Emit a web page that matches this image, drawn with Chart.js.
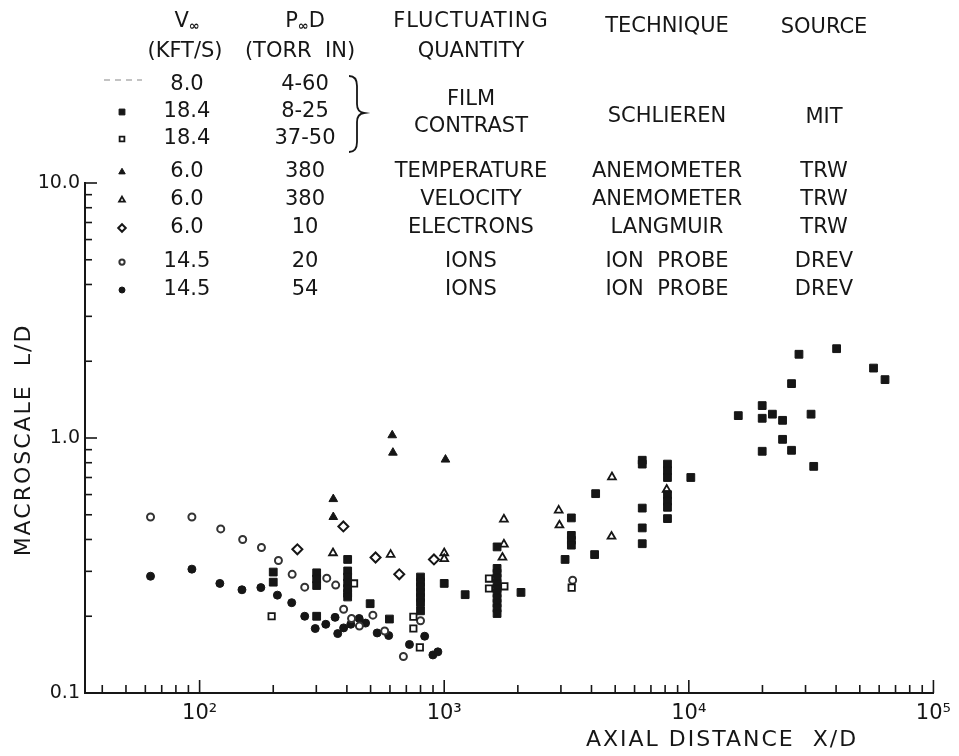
<!DOCTYPE html>
<html>
<head>
<meta charset="utf-8">
<script src="https://cdn.jsdelivr.net/npm/chart.js@4.4.0/dist/chart.umd.min.js"></script>
<style>
  body { margin: 0; background: #fff; }
  canvas { display: block; }
</style>
</head>
<body>
<canvas id="chart" width="959" height="756"></canvas>
<script>
// --- data (x = X/D, y = L/D) ---
// MIT schlieren, 18.4 kft/s, 8-25 torr in (filled squares)
const mitLowX = [200, 200, 301, 301, 301, 301, 403, 403, 403, 403, 403, 403, 403, 498, 597,
  800, 800, 800, 800, 800, 800, 800, 1000, 1218,
  1645, 1645, 1645, 1645, 1645, 1645, 1645, 1645, 1645, 1645, 1645, 2060, 3120,
  3310, 3310, 3310, 3310, 4120, 4160, 6450, 6450, 6450, 6450, 6450,
  8180, 8180, 8180, 8180, 8180, 8180, 8180, 10190,
  15930, 19950, 19950, 19950, 21960, 24170, 24170, 26300, 26300, 28200, 31600, 32400, 40200, 56900, 63400];
const mitLowY = [0.298, 0.272, 0.296, 0.280, 0.264, 0.200, 0.334, 0.301, 0.285, 0.270, 0.257, 0.246, 0.238, 0.224, 0.195,
  0.285, 0.272, 0.260, 0.248, 0.237, 0.226, 0.210, 0.269, 0.243,
  0.374, 0.308, 0.295, 0.282, 0.269, 0.257, 0.246, 0.235, 0.225, 0.215, 0.205, 0.248, 0.334,
  0.486, 0.415, 0.397, 0.380, 0.349, 0.605, 0.818, 0.790, 0.531, 0.444, 0.385,
  0.790, 0.745, 0.700, 0.600, 0.565, 0.535, 0.483, 0.700,
  1.224, 1.340, 1.195, 0.887, 1.240, 1.173, 0.988, 1.634, 0.895, 2.130, 1.240, 0.774, 2.240, 1.880, 1.694];

// MIT schlieren, 18.4 kft/s, 37-50 torr in (open squares)
const mitHighX = [197, 428, 748, 748, 795, 1524, 1524, 1762, 3320];
const mitHighY = [0.200, 0.269, 0.199, 0.179, 0.151, 0.281, 0.257, 0.262, 0.259];

// TRW anemometer temperature (filled triangles)
const trwTempX = [352, 352, 613, 617, 1012];
const trwTempY = [0.576, 0.490, 1.025, 0.876, 0.823];

// TRW anemometer velocity (open triangles)
const trwVelX = [351, 604, 1000, 1000, 1754, 1754, 1730, 2938, 2958, 4850, 4830, 8120];
const trwVelY = [0.354, 0.349, 0.354, 0.336, 0.480, 0.383, 0.340, 0.520, 0.455, 0.703, 0.411, 0.628];

// TRW Langmuir electrons (open diamonds)
const trwElecX = [251, 387, 524, 655, 908];
const trwElecY = [0.366, 0.450, 0.340, 0.292, 0.334];

// DREV ion probe, 20 torr in (open circles)
const drevLowX = [63, 93, 122, 150, 179, 210, 239, 269, 331, 360, 388, 418, 450, 511, 571, 681, 800, 3350];
const drevLowY = [0.490, 0.490, 0.440, 0.400, 0.372, 0.331, 0.292, 0.260, 0.282, 0.265, 0.213, 0.196, 0.183, 0.202, 0.175, 0.139, 0.192, 0.277];

// DREV ion probe, 54 torr in (filled circles)
const drevHighX = [63, 93, 121, 149, 178, 208, 238, 269, 297, 328, 358, 367, 388, 415, 449, 477, 532, 593, 721, 832, 899, 942];
const drevHighY = [0.287, 0.306, 0.269, 0.254, 0.259, 0.242, 0.226, 0.200, 0.179, 0.186, 0.198, 0.171, 0.180, 0.186, 0.196, 0.188, 0.172, 0.168, 0.155, 0.167, 0.141, 0.145];

// ticks
const xTicks = [40, 50, 60, 70, 80, 90, 100, 200, 300, 400, 500, 600, 700, 800, 900, 1000,
  2000, 3000, 4000, 5000, 6000, 7000, 8000, 9000, 10000,
  20000, 30000, 40000, 50000, 60000, 70000, 80000, 90000, 100000];
const xTickLabels = { 100: '10²', 1000: '10³', 10000: '10⁴', 100000: '10⁵' };
const yTicks = [0.1, 0.2, 0.3, 0.4, 0.5, 0.6, 0.7, 0.8, 0.9, 1, 2, 3, 4, 5, 6, 7, 8, 9, 10];
const yTickLabels = { 0.1: '0.1', 1: '1.0', 10: '10.0' };

// legend table text
const velocities = ['8.0', '18.4', '18.4', '6.0', '6.0', '6.0', '14.5', '14.5'];
const pressures = ['4-60', '8-25', '37-50', '380', '380', '10', '20', '54'];
const quantities = ['TEMPERATURE', 'VELOCITY', 'ELECTRONS', 'IONS', 'IONS'];
const techniques = ['ANEMOMETER', 'ANEMOMETER', 'LANGMUIR', 'ION  PROBE', 'ION  PROBE'];
const sources = ['TRW', 'TRW', 'TRW', 'DREV', 'DREV'];

const INK = '#161616';
const FONT = '"DejaVu Sans", sans-serif';
const TXT = '21px ' + FONT;

function pts(xs, ys) {
  return xs.map((x, i) => ({ x: x, y: ys[i] }));
}

const datasets = [
  { label: 'MIT 8-25', data: pts(mitLowX, mitLowY), pointStyle: 'rect', pointRadius: 5.5,
    backgroundColor: INK, borderColor: INK, borderWidth: 1 },
  { label: 'MIT 37-50', data: pts(mitHighX, mitHighY), pointStyle: 'rect', pointRadius: 4.5,
    backgroundColor: '#fff', borderColor: INK, borderWidth: 1.8 },
  { label: 'TRW temperature', data: pts(trwTempX, trwTempY), pointStyle: 'triangle', pointRadius: 5,
    backgroundColor: INK, borderColor: INK, borderWidth: 1 },
  { label: 'TRW velocity', data: pts(trwVelX, trwVelY), pointStyle: 'triangle', pointRadius: 4.5,
    backgroundColor: '#fff', borderColor: INK, borderWidth: 1.8 },
  { label: 'TRW electrons', data: pts(trwElecX, trwElecY), pointStyle: 'rectRot', pointRadius: 5,
    backgroundColor: '#fff', borderColor: INK, borderWidth: 2 },
  { label: 'DREV 20', data: pts(drevLowX, drevLowY), pointStyle: 'circle', pointRadius: 3.5,
    backgroundColor: '#fff', borderColor: '#333', borderWidth: 2 },
  { label: 'DREV 54', data: pts(drevHighX, drevHighY), pointStyle: 'circle', pointRadius: 4,
    backgroundColor: INK, borderColor: INK, borderWidth: 1 }
];

// inward tick marks, axis titles
const axisDecor = {
  id: 'axisDecor',
  afterDraw(chart) {
    const { ctx, chartArea: a, scales: { x, y } } = chart;
    ctx.save();
    ctx.strokeStyle = INK;
    ctx.lineWidth = 1.6;
    x.ticks.forEach(t => {
      const px = x.getPixelForValue(t.value);
      const len = xTickLabels[t.value] ? 13 : 8;
      ctx.beginPath();
      ctx.moveTo(px, a.bottom);
      ctx.lineTo(px, a.bottom - len);
      ctx.stroke();
    });
    y.ticks.forEach(t => {
      const py = y.getPixelForValue(t.value);
      const len = yTickLabels[t.value] ? 12 : 7;
      ctx.beginPath();
      ctx.moveTo(a.left, py);
      ctx.lineTo(a.left + len, py);
      ctx.stroke();
    });

    ctx.fillStyle = INK;
    ctx.font = '22px ' + FONT;
    ctx.letterSpacing = '2px';
    ctx.textAlign = 'center';
    ctx.textBaseline = 'middle';
    ctx.fillText('AXIAL DISTANCE  X/D', 722, 740);
    ctx.translate(24, 440);
    ctx.rotate(-Math.PI / 2);
    ctx.fillText('MACROSCALE  L/D', 0, 0);
    ctx.restore();
  }
};

// legend table at the top
const tableRowY = [85, 112, 139, 172, 200, 228, 262, 290];
const colMark = 122, colV = 187, colP = 305, colQ = 471, colT = 667, colS = 824;

const legendTable = {
  id: 'legendTable',
  afterDraw(chart) {
    const ctx = chart.ctx;
    ctx.save();
    ctx.fillStyle = INK;
    ctx.strokeStyle = INK;
    ctx.textAlign = 'center';
    ctx.textBaseline = 'middle';
    ctx.font = TXT;

    // headers with subscript infinity
    const sub = (main, subTxt, tail, cx, cy) => {
      ctx.font = TXT;
      const w1 = ctx.measureText(main).width;
      const wt = tail ? ctx.measureText(tail).width : 0;
      ctx.font = 'bold 13px ' + FONT;
      const w2 = ctx.measureText(subTxt).width;
      const left = cx - (w1 + w2 + wt) / 2;
      ctx.textAlign = 'left';
      ctx.font = TXT;
      ctx.fillText(main, left, cy);
      ctx.font = 'bold 13px ' + FONT;
      ctx.fillText(subTxt, left + w1, cy + 5);
      if (tail) {
        ctx.font = TXT;
        ctx.fillText(tail, left + w1 + w2, cy);
      }
      ctx.textAlign = 'center';
      ctx.font = TXT;
    };
    sub('V', '∞', '', colV, 22);
    sub('P', '∞', 'D', colP, 22);
    ctx.fillText('(KFT/S)', colV - 2, 52);
    ctx.fillText('(TORR  IN)', colP - 5, 52);
    ctx.letterSpacing = '1px';
    ctx.fillText('FLUCTUATING', colQ, 22);
    ctx.letterSpacing = '0px';
    ctx.fillText('QUANTITY', colQ, 52);
    ctx.fillText('TECHNIQUE', colT, 27);
    ctx.fillText('SOURCE', colS, 28);

    tableRowY.forEach((ry, i) => {
      ctx.fillText(velocities[i], colV, ry);
      ctx.fillText(pressures[i], colP, ry);
    });
    ctx.fillText('FILM', colQ, 100);
    ctx.fillText('CONTRAST', colQ, 127);
    ctx.fillText('SCHLIEREN', colT, 117);
    ctx.fillText('MIT', colS, 118);
    for (let i = 0; i < quantities.length; i++) {
      const ry = tableRowY[i + 3];
      ctx.fillText(quantities[i], colQ, ry);
      ctx.fillText(techniques[i], colT, ry);
      ctx.fillText(sources[i], colS, ry);
    }

    // brace
    ctx.lineWidth = 1.8;
    ctx.beginPath();
    ctx.moveTo(349, 76);
    ctx.quadraticCurveTo(357, 76, 357, 86);
    ctx.lineTo(357, 104);
    ctx.quadraticCurveTo(357, 112, 364, 113);
    ctx.quadraticCurveTo(357, 114, 357, 122);
    ctx.lineTo(357, 142);
    ctx.quadraticCurveTo(357, 152, 349, 152);
    ctx.stroke();

    // dashed line sample (8.0 kft/s)
    ctx.strokeStyle = '#888';
    ctx.lineWidth = 1.2;
    ctx.setLineDash([6, 5]);
    ctx.beginPath();
    ctx.moveTo(104, 80);
    ctx.lineTo(142, 80);
    ctx.stroke();
    ctx.setLineDash([]);

    // symbols
    chart.data.datasets.forEach((ds, i) => {
      ctx.fillStyle = ds.backgroundColor;
      ctx.strokeStyle = ds.borderColor;
      ctx.lineWidth = ds.borderWidth;
      Chart.helpers.drawPoint(ctx, { pointStyle: ds.pointStyle, radius: ds.pointRadius * 0.75, rotation: 0,
        borderWidth: ds.borderWidth }, colMark, tableRowY[i + 1]);
    });
    ctx.restore();
  }
};

new Chart(document.getElementById('chart'), {
  type: 'scatter',
  data: { datasets: datasets },
  options: {
    responsive: false,
    animation: false,
    devicePixelRatio: 1,
    layout: { padding: { top: 183, right: 17, left: 0, bottom: 0 } },
    plugins: { legend: { display: false }, tooltip: { enabled: false } },
    scales: {
      x: {
        type: 'logarithmic',
        min: 34,
        max: 100000,
        afterBuildTicks: s => { s.ticks = xTicks.map(v => ({ value: v })); },
        afterFit: s => { s.height = 63; },
        grid: { display: false, drawTicks: false },
        border: { display: true, color: INK, width: 2 },
        ticks: {
          autoSkip: false,
          maxRotation: 0,
          padding: 8,
          color: INK,
          font: { family: FONT, size: 21 },
          callback: v => xTickLabels[v] || ''
        }
      },
      y: {
        type: 'logarithmic',
        min: 0.1,
        max: 10,
        afterBuildTicks: s => { s.ticks = yTicks.map(v => ({ value: v })); },
        afterFit: s => { s.width = 85; },
        grid: { display: false, drawTicks: false },
        border: { display: true, color: INK, width: 2 },
        ticks: {
          autoSkip: false,
          padding: 5,
          color: INK,
          font: { family: FONT, size: 19 },
          callback: v => yTickLabels[v] || ''
        }
      }
    }
  },
  plugins: [axisDecor, legendTable]
});
</script>
</body>
</html>
